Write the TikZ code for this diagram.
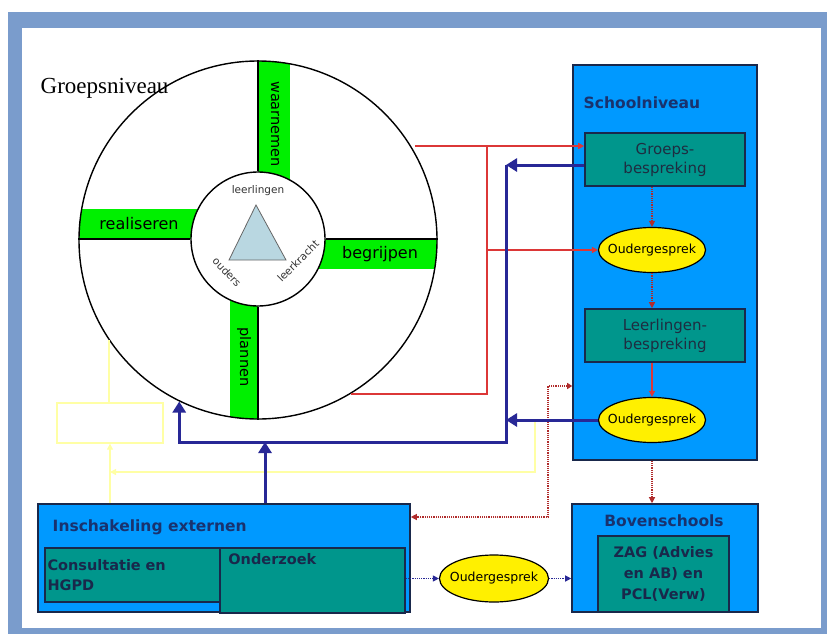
\documentclass[tikz,border=0pt]{standalone}
\usepackage{fontspec}
\setmainfont{DejaVu Sans}
\newfontfamily\kopfont{Liberation Serif}
\usepackage{tikz}
\usetikzlibrary{arrows.meta,shapes.geometric,positioning}

\definecolor{kaderblauw}{RGB}{122,156,204}
\definecolor{vlakblauw}{RGB}{0,153,255}
\definecolor{randblauw}{RGB}{25,40,75}
\definecolor{petrol}{RGB}{0,150,140}
\definecolor{felgroen}{RGB}{0,240,0}
\definecolor{geel}{RGB}{255,240,0}
\definecolor{donkerblauw}{RGB}{40,40,150}
\definecolor{rood}{RGB}{220,55,55}
\definecolor{lichtgeel}{RGB}{255,255,165}
\definecolor{driehoek}{RGB}{185,215,225}
\definecolor{tekstblauw}{RGB}{25,50,110}
\definecolor{tekstgrijs}{RGB}{30,45,65}

\newcommand{\smal}[1]{\makebox[0pt]{#1}}

\begin{document}
\begin{tikzpicture}[x=1pt,y=-1pt,thick,
   niveau/.style={rectangle,draw=randblauw,line width=1.6pt,fill=vlakblauw,inner sep=0pt},
   overleg/.style={rectangle,draw=randblauw,line width=1.6pt,fill=petrol,inner sep=0pt,
     text=tekstgrijs,align=center,font=\fontsize{15}{19}\selectfont},
   gesprek/.style={ellipse,draw=black,line width=1.2pt,fill=geel,inner sep=0pt,
     minimum width=107pt,minimum height=45pt,font=\fontsize{12.5}{14}\selectfont},
   kop/.style={font=\fontsize{15.5}{18}\selectfont\bfseries,text=tekstblauw},
   bandtekst/.style={font=\fontsize{16}{18}\selectfont},
   kerntekst/.style={font=\fontsize{10.5}{12}\selectfont,text=black!80},
   rode lijn/.style={draw=rood,line width=1.6pt},
   rode stip/.style={draw=rood!80!black,line width=1.2pt,densely dotted},
   blauwe lijn/.style={draw=donkerblauw,line width=3pt},
   blauwe stip/.style={draw=donkerblauw,line width=1.2pt,densely dotted},
   gele lijn/.style={draw=lichtgeel,line width=1.3pt},
   grote punt/.style={-{Triangle[width=13pt,length=11pt]}},
   kleine punt/.style={-{Triangle[width=6pt,length=6pt]}}]

  \useasboundingbox (0,0) rectangle (827,634);
  % kader
  \fill[kaderblauw] (8,12) rectangle (827,634);
  \fill[white] (22,28) rectangle (821,628);

  % groepsniveau: cirkel met banden
  \begin{scope}
    \clip (258,240) circle (179pt);
    \fill[felgroen] (258,40) rectangle (290,239);
    \fill[felgroen] (60,209) rectangle (258,239);
    \fill[felgroen] (258,239) rectangle (460,269);
    \fill[felgroen] (230,239) rectangle (258,440);
  \end{scope}
  \node[circle,draw,line width=1.4pt,minimum size=358pt,inner sep=0pt] (kring) at (258,240) {};
  \node[circle,draw,line width=1.4pt,fill=white,minimum size=134pt,inner sep=0pt] (kern) at (258,239) {};
  \draw[line width=1.2pt] (kern.north) -- (kern.north |- kring.north);
  \draw[line width=1.2pt] (kern.south) -- (kern.south |- kring.south);
  \draw[line width=1.2pt] (kern.west) -- (kern.west -| kring.west);
  \draw[line width=1.2pt] (kern.east) -- (kern.east -| kring.east);

  \node[bandtekst,rotate=-90,font=\fontsize{14.5}{16}\selectfont] (waarnemen) at (275,124) {waarnemen};
  \node[bandtekst] (realiseren) at (139,224) {realiseren};
  \node[bandtekst] (begrijpen) at (380,254) {begrijpen};
  \node[bandtekst,rotate=-90,font=\fontsize{14.5}{16}\selectfont] (plannen) at (244,357) {plannen};

  \draw[draw=black!60,fill=driehoek] (256,205) -- (229,260) -- (286,260) -- cycle;
  \node[kerntekst] (leerlingen) at (258,191) {leerlingen};
  \node[kerntekst,rotate=-47] (ouders) at (227,272) {ouders};
  \node[kerntekst,rotate=45] (leerkracht) at (298,261) {leerkracht};

  \node[anchor=west,font=\kopfont\fontsize{23}{26}\selectfont] (groepsniveau) at (37,88) {Groepsniveau};

  % schoolniveau
  \node[niveau,minimum width=184pt,minimum height=395pt] (school) at (665,262.5) {};
  \node[kop,anchor=west] (schooltitel) at (580,103) {Schoolniveau};
  \node[overleg,minimum width=160pt,minimum height=53pt] (groeps) at (665,159.5) {Groeps-\\bespreking};
  \node[gesprek] (oud1) at (652,250) {\smal{Oudergesprek}};
  \node[overleg,minimum width=160pt,minimum height=53pt] (leer) at (665,335.5) {Leerlingen-\\bespreking};
  \node[gesprek] (oud2) at (652,420) {\smal{Oudergesprek}};

  % bovenschools
  \node[niveau,minimum width=186pt,minimum height=108pt] (boven) at (665,558) {};
  \node[kop] (boventitel) at (664,521) {Bovenschools};
  \node[overleg,minimum width=131pt,minimum height=76pt,font=\fontsize{14.5}{21}\selectfont\bfseries,text=randblauw] (zag) at (663.5,574) {ZAG (Advies\\en AB) en\\PCL(Verw)};

  % inschakeling externen
  \node[niveau,minimum width=372pt,minimum height=108pt] (insch) at (224,558) {};
  \node[kop,anchor=west] (inschtitel) at (49,527) {Inschakeling externen};
  \node[overleg,minimum width=177pt,minimum height=54pt,text width=172pt,align=left,
        font=\fontsize{14.5}{20}\selectfont\bfseries,text=randblauw] (consult) at (133.5,575) {Consultatie en\\HGPD};
  \node[overleg,minimum width=185pt,minimum height=65pt] (onderz) at (312.5,580.5) {};
  \node[anchor=north west,inner sep=2pt,font=\fontsize{14.5}{16}\selectfont\bfseries,text=randblauw] (onderztekst) at (226,551) {Onderzoek};
  \node[gesprek,minimum width=109pt,minimum height=47pt] (oud3) at (494,578.5) {\smal{Oudergesprek}};

  % lege gele doos
  \node[rectangle,draw=lichtgeel,line width=1.3pt,minimum width=106pt,minimum height=40pt] (leeg) at (110,423) {};

  \coordinate (rboven) at (415,146);
  \coordinate (rsplit) at (487,146);
  \coordinate (bhoek) at (506,165);
  \coordinate (bonder) at (506,442);
  \coordinate (bmid) at (265,442);
  \coordinate (ystart) at (535,421);
  \coordinate (yonder) at (535,472);
  \coordinate (ylinks) at (110,472);
  \coordinate (rdhoek) at (548,386);
  \coordinate (rdonder) at (548,517);
  \coordinate (rdschool) at (school.south -| oud1.south);

  % gele lijnen
  \draw[gele lijn] (kring.-146) -- (kring.-146 |- leeg.north);
  \draw[gele lijn,kleine punt] (ylinks |- insch.north) -- (leeg.south);
  \draw[gele lijn,kleine punt] (ystart) -- (yonder) -- (ylinks);

  % rode lijnen
  \draw[rode lijn,kleine punt] (rboven) -- (rboven -| groeps.west);
  \draw[rode lijn] (kring.-59) -| (rsplit);
  \draw[rode lijn,kleine punt] (rsplit |- oud1.west) -- (oud1.west);
  \draw[rode stip,kleine punt] (groeps.south -| oud1.north) -- (oud1.north);
  \draw[rode stip,kleine punt] (oud1.south) -- (oud1.south |- leer.north);
  \draw[rode lijn,kleine punt] (leer.south -| oud2.north) -- (oud2.north);
  \draw[rode stip,kleine punt] (rdschool) -- (rdschool |- boven.north);
  \draw[rode stip,{Triangle[width=6pt,length=5pt]}-{Triangle[width=6pt,length=6pt]}]
     (rdhoek -| school.west) -- (rdhoek) -- (rdonder) -- (rdonder -| insch.east);

  % blauwe lijnen
  \draw[blauwe lijn,grote punt] (groeps.west |- bhoek) -- (bhoek);
  \draw[blauwe lijn,grote punt] (oud2.west) -- (oud2.west -| bhoek);
  \draw[blauwe lijn,grote punt] (bhoek) -- (bonder) -| (kring.-116);
  \draw[blauwe lijn,grote punt] (bmid |- insch.north) -- (bmid);
  \draw[blauwe stip,kleine punt] (onderz.east |- oud3.west) -- (oud3.west);
  \draw[blauwe stip,kleine punt] (oud3.east) -- (oud3.east -| boven.west);
\end{tikzpicture}
\end{document}
